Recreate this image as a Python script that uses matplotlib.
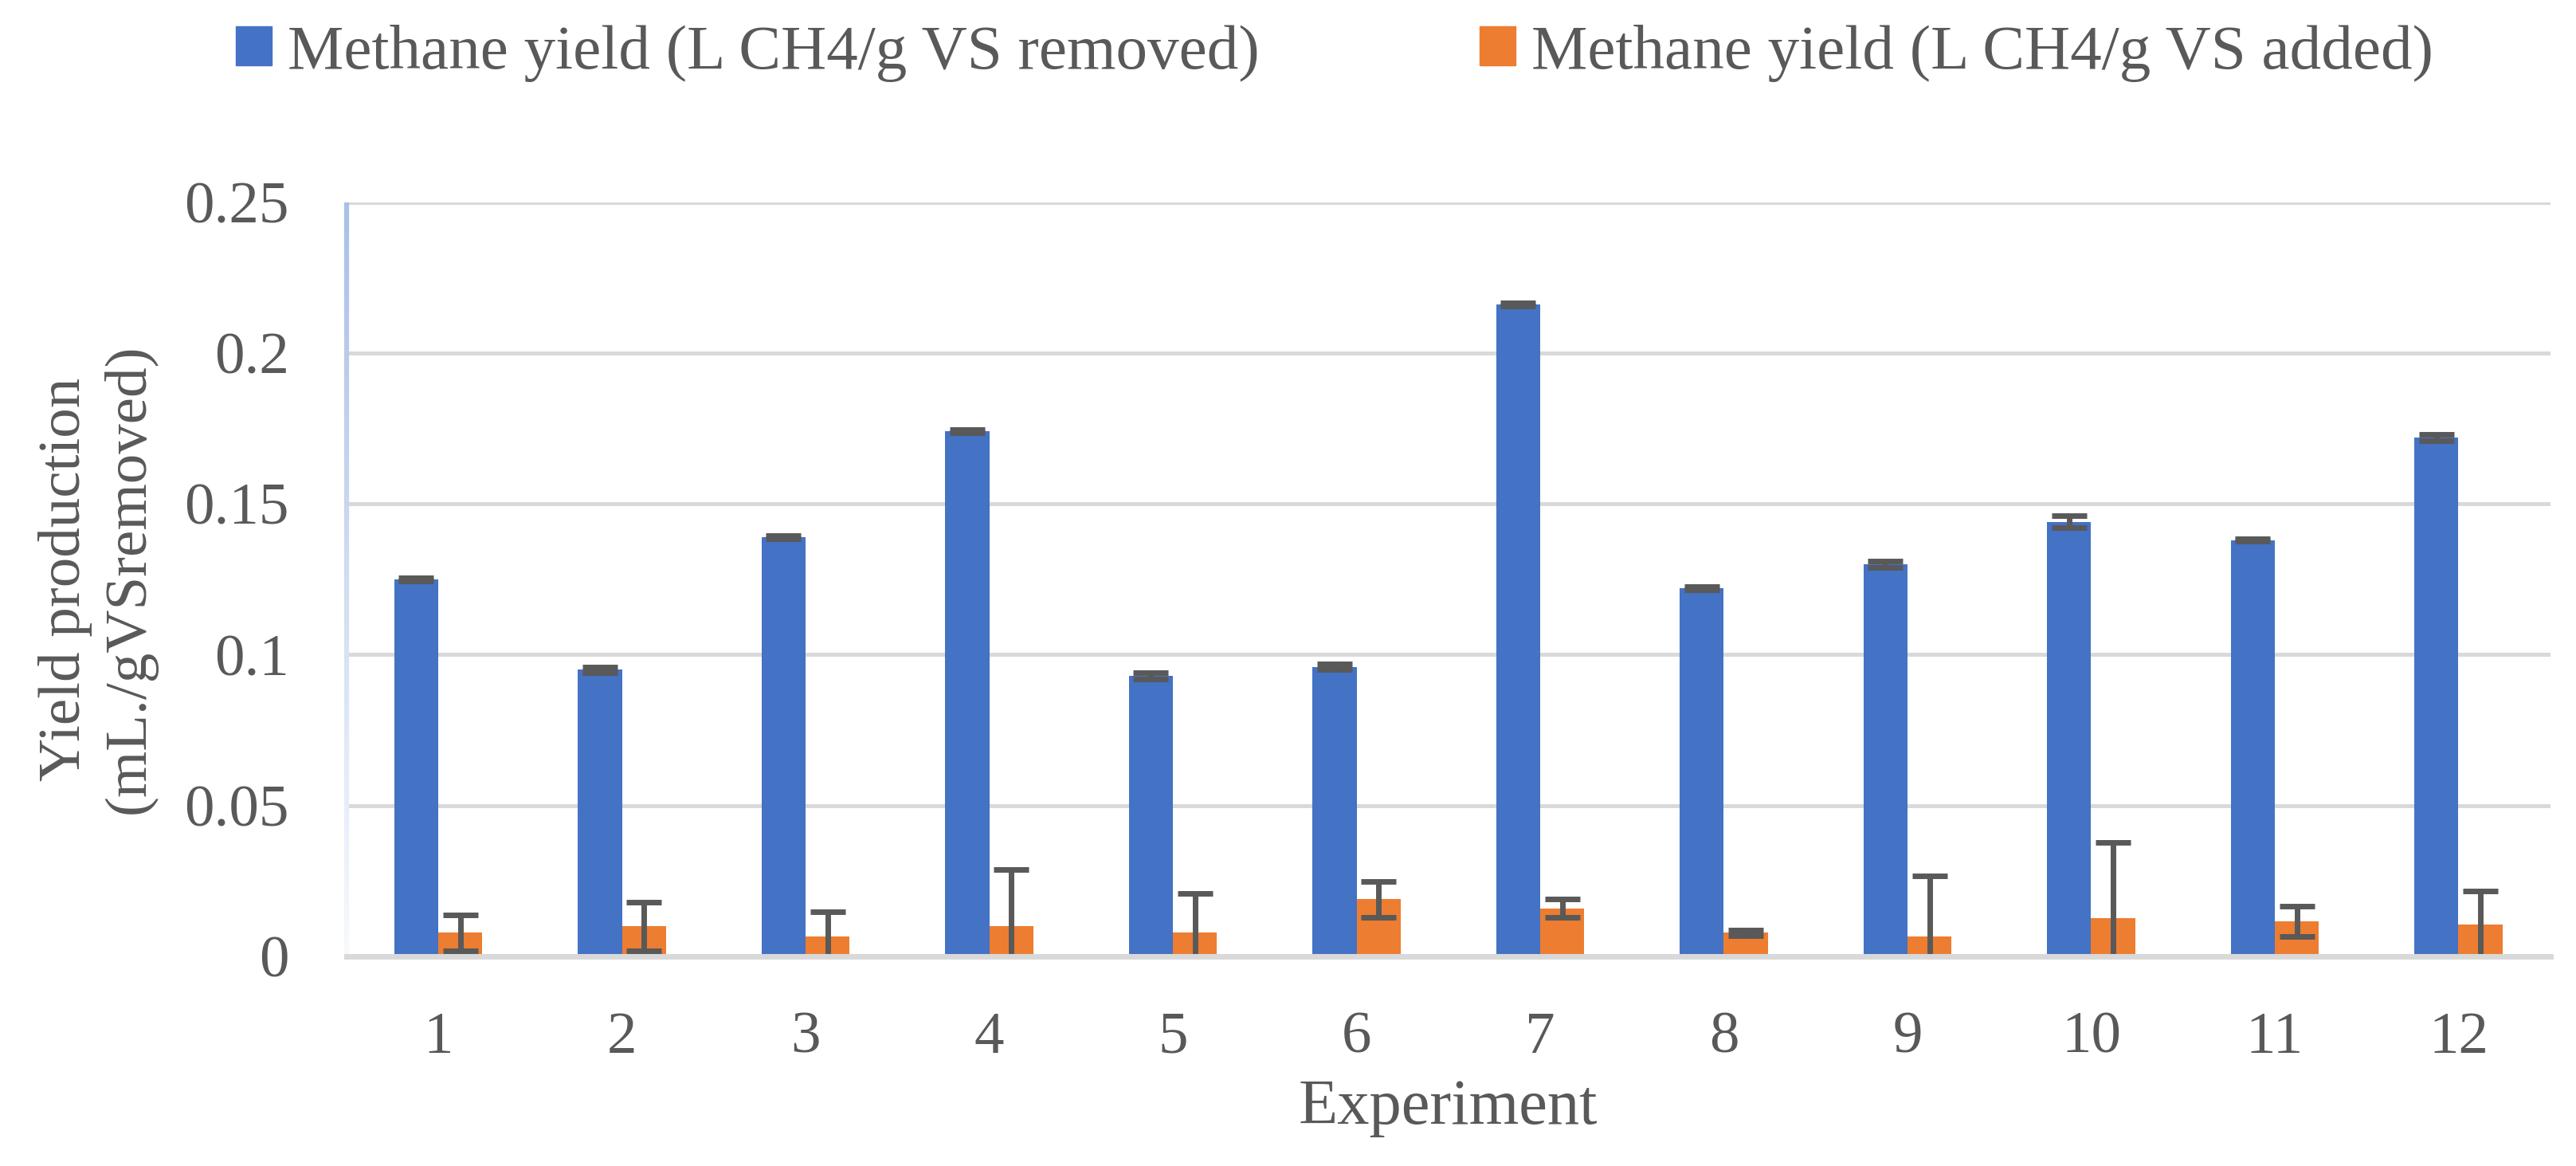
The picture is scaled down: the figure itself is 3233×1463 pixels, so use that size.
import numpy as np
import matplotlib.pyplot as plt
from matplotlib.patches import Patch
from matplotlib.collections import LineCollection
from matplotlib.colors import to_rgb

# Data
experiments = ['1', '2', '3', '4', '5', '6', '7', '8', '9', '10', '11', '12']
yield_removed = [0.125, 0.095, 0.139, 0.174, 0.093, 0.096, 0.216, 0.122, 0.130, 0.144, 0.138, 0.172]
err_removed = [0.0005, 0.001, 0.0005, 0.0005, 0.001, 0.001, 0.0005, 0.0005, 0.001, 0.002, 0.0005, 0.001]
yield_added = [0.0078, 0.0099, 0.0067, 0.0099, 0.0078, 0.0189, 0.0159, 0.0078, 0.0067, 0.0127, 0.0117, 0.0106]
err_added = [0.006, 0.008, 0.008, 0.019, 0.013, 0.006, 0.003, 0.001, 0.020, 0.025, 0.005, 0.011]

label_removed = 'Methane yield (L CH4/g VS removed)'
label_added = 'Methane yield (L CH4/g VS added)'

blue = '#4472C4'
orange = '#ED7D31'
grey_txt = '#595959'
grid_col = '#D9D9D9'

plt.rcParams['font.family'] = ['Liberation Serif', 'DejaVu Serif']
fs = 54      # tick labels, y label
fs_x = 58    # x label
fs_leg = 57  # legend

fig = plt.figure(figsize=(32.33, 14.63), dpi=100)
ax = fig.add_axes([0.1345, 0.1798, 0.8555, 0.6469])

x = np.arange(len(experiments))
w = 0.24
ekw = dict(ecolor=grey_txt, elinewidth=5, capsize=15.5, capthick=5)
ax.bar(x - w/2, yield_removed, w, color=blue, yerr=err_removed, error_kw=ekw, zorder=3)
ax.bar(x + w/2, yield_added, w, color=orange, yerr=err_added, error_kw=ekw, zorder=3)

ax.set_xlim(-0.5, len(experiments) - 0.5)
ax.set_ylim(0, 0.25)
ax.set_yticks([0, 0.05, 0.1, 0.15, 0.2, 0.25])
ax.set_yticklabels(['0', '0.05', '0.1', '0.15', '0.2', '0.25'])
ax.set_xticks(x)
ax.set_xticklabels(experiments)
ax.tick_params(axis='both', length=0, labelsize=fs, colors=grey_txt)
ax.tick_params(axis='x', pad=50)
ax.tick_params(axis='y', pad=52)

ax.yaxis.grid(True, color=grid_col, linewidth=3.6, zorder=0)
ax.set_axisbelow(True)
for s in ['top', 'right', 'left']:
    ax.spines[s].set_visible(False)
ax.spines['bottom'].set_color(grid_col)
ax.spines['bottom'].set_linewidth(5)
ax.spines['bottom'].set_zorder(4)

# faded blue left axis line
n = 200
ys = np.linspace(0, 0.25, n + 1)
segs = [[(-0.5, ys[i]), (-0.5, ys[i + 1])] for i in range(n)]
c0 = np.array(to_rgb('#F7F9FD'))
c1 = np.array(to_rgb('#A9BFE6'))
cols = [c0 + (c1 - c0) * (i / n) for i in range(n)]
lc = LineCollection(segs, colors=cols, linewidths=4.5, zorder=2, clip_on=False)
ax.add_collection(lc)

ax.set_xlabel('Experiment', fontsize=fs_x, color=grey_txt, labelpad=12)
ax.set_ylabel('Yield production\n(mL./gVSremoved)', fontsize=fs, color=grey_txt,
              labelpad=25, linespacing=1.25)

handles = [Patch(color=blue, label=label_removed), Patch(color=orange, label=label_added)]
fig.legend(handles=handles, loc='center left', bbox_to_anchor=(0.0916, 0.9545), ncol=2,
           frameon=False, fontsize=fs_leg, labelcolor=grey_txt,
           borderpad=0, borderaxespad=0,
           handlelength=32.4/fs_leg, handleheight=32.4/fs_leg,
           handletextpad=14.4/fs_leg, columnspacing=199/fs_leg)

fig.savefig('out.png', dpi=100)
